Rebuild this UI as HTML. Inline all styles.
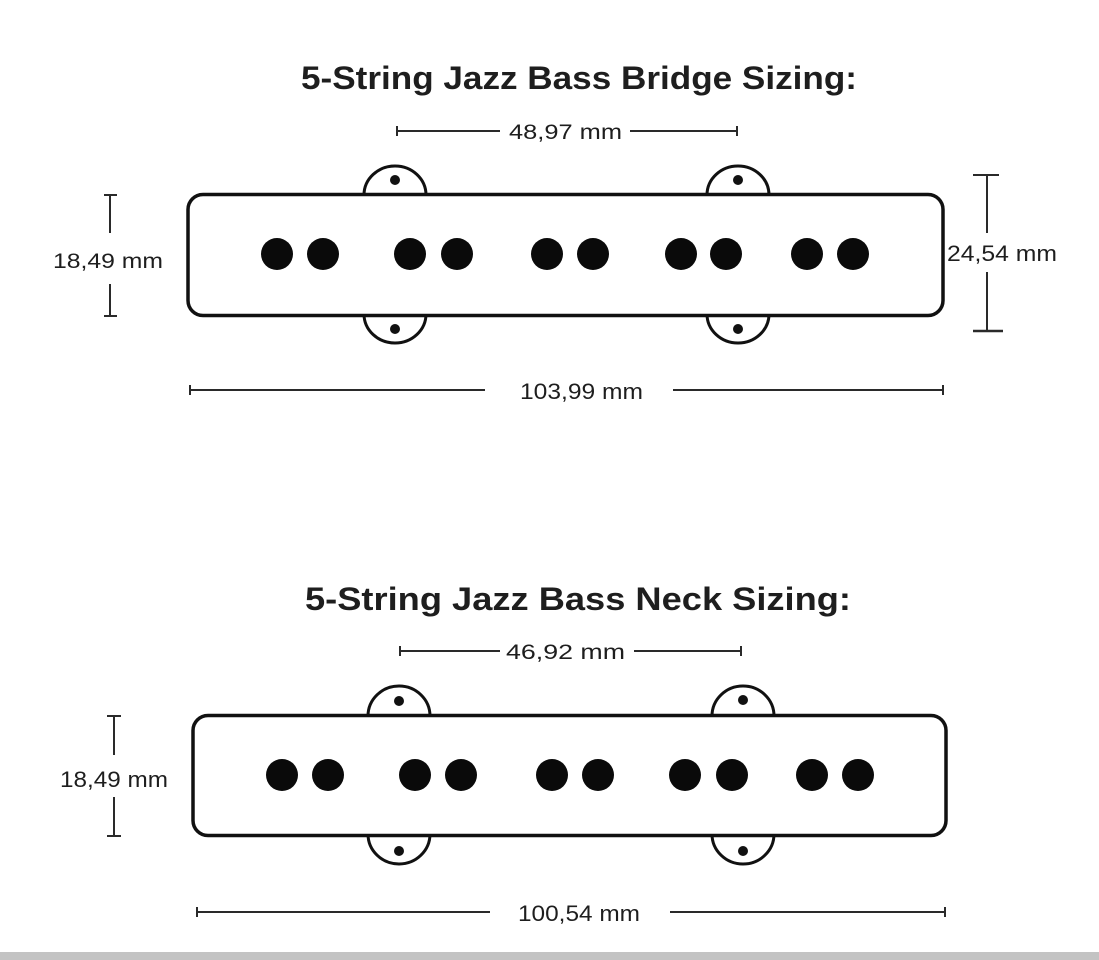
<!DOCTYPE html>
<html>
<head>
<meta charset="utf-8">
<style>
  html, body { margin:0; padding:0; background:#fff; }
  body { width:1099px; height:960px; overflow:hidden; position:relative; }
  svg { display:block; }
  text { font-family: "Liberation Sans", Arial, sans-serif; fill:#1e1e1e; }
</style>
</head>
<body>
<svg width="1099" height="960" viewBox="0 0 1099 960" xmlns="http://www.w3.org/2000/svg">
  <rect x="0" y="0" width="1099" height="960" fill="#ffffff"/>

  <!-- ===== TOP (BRIDGE) ===== -->
  <text x="301" y="89" font-size="32" font-weight="bold" textLength="556" lengthAdjust="spacingAndGlyphs">5-String Jazz Bass Bridge Sizing:</text>

  <!-- 48,97 dimension -->
  <g stroke="#2a2a2a" stroke-width="2" fill="none">
    <line x1="397" y1="131" x2="500" y2="131"/>
    <line x1="630" y1="131" x2="737" y2="131"/>
    <line x1="397" y1="126" x2="397" y2="136"/>
    <line x1="737" y1="126" x2="737" y2="136"/>
  </g>
  <text x="509" y="139" font-size="21" textLength="113" lengthAdjust="spacingAndGlyphs">48,97 mm</text>

  <!-- ears top pickup -->
  <g stroke="#111" stroke-width="3" fill="#fff">
    <path d="M364,195 A31,29 0 0 1 426,195"/>
    <path d="M707,195 A31,29 0 0 1 769,195"/>
    <path d="M364,314 A31,29 0 0 0 426,314"/>
    <path d="M707,314 A31,29 0 0 0 769,314"/>
  </g>
  <g fill="#111">
    <circle cx="395" cy="180" r="5"/>
    <circle cx="738" cy="180" r="5"/>
    <circle cx="395" cy="329" r="5"/>
    <circle cx="738" cy="329" r="5"/>
  </g>
  <!-- body -->
  <rect x="188" y="194.5" width="755" height="121" rx="15" ry="15" fill="#fff" stroke="#111" stroke-width="3.5"/>
  <g fill="#0a0a0a">
    <circle cx="277" cy="254" r="16"/>
    <circle cx="323" cy="254" r="16"/>
    <circle cx="410" cy="254" r="16"/>
    <circle cx="457" cy="254" r="16"/>
    <circle cx="547" cy="254" r="16"/>
    <circle cx="593" cy="254" r="16"/>
    <circle cx="681" cy="254" r="16"/>
    <circle cx="726" cy="254" r="16"/>
    <circle cx="807" cy="254" r="16"/>
    <circle cx="853" cy="254" r="16"/>
  </g>

  <!-- 18,49 left (top) -->
  <g stroke="#2a2a2a" stroke-width="2" fill="none">
    <line x1="110" y1="195" x2="110" y2="233"/>
    <line x1="104" y1="195" x2="117" y2="195"/>
    <line x1="110" y1="284" x2="110" y2="316"/>
    <line x1="104" y1="316" x2="117" y2="316"/>
  </g>
  <text x="53" y="268" font-size="21" textLength="110" lengthAdjust="spacingAndGlyphs">18,49 mm</text>

  <!-- 24,54 right -->
  <g stroke="#2a2a2a" stroke-width="2" fill="none">
    <line x1="987" y1="175" x2="987" y2="233"/>
    <line x1="987" y1="272" x2="987" y2="331"/>
    <line x1="973" y1="175" x2="999" y2="175"/>
    <line x1="973" y1="331" x2="1003" y2="331" stroke-width="2.5"/>
  </g>
  <text x="947" y="261" font-size="22" textLength="110" lengthAdjust="spacingAndGlyphs">24,54 mm</text>

  <!-- 103,99 -->
  <g stroke="#2a2a2a" stroke-width="2" fill="none">
    <line x1="190" y1="390" x2="485" y2="390"/>
    <line x1="673" y1="390" x2="943" y2="390"/>
    <line x1="190" y1="385" x2="190" y2="395"/>
    <line x1="943" y1="385" x2="943" y2="395"/>
  </g>
  <text x="520" y="399" font-size="22" textLength="123" lengthAdjust="spacingAndGlyphs">103,99 mm</text>

  <!-- ===== BOTTOM (NECK) ===== -->
  <text x="305" y="610" font-size="32" font-weight="bold" textLength="546" lengthAdjust="spacingAndGlyphs">5-String Jazz Bass Neck Sizing:</text>

  <!-- 46,92 -->
  <g stroke="#2a2a2a" stroke-width="2" fill="none">
    <line x1="400" y1="651" x2="500" y2="651"/>
    <line x1="634" y1="651" x2="741" y2="651"/>
    <line x1="400" y1="646" x2="400" y2="656"/>
    <line x1="741" y1="646" x2="741" y2="656"/>
  </g>
  <text x="506" y="659" font-size="21" textLength="119" lengthAdjust="spacingAndGlyphs">46,92 mm</text>

  <!-- ears bottom pickup -->
  <g stroke="#111" stroke-width="3" fill="#fff">
    <path d="M368,716 A31,30 0 0 1 430,716"/>
    <path d="M712,716 A31,30 0 0 1 774,716"/>
    <path d="M368,834 A31,30 0 0 0 430,834"/>
    <path d="M712,834 A31,30 0 0 0 774,834"/>
  </g>
  <g fill="#111">
    <circle cx="399" cy="701" r="5"/>
    <circle cx="743" cy="700" r="5"/>
    <circle cx="399" cy="851" r="5"/>
    <circle cx="743" cy="851" r="5"/>
  </g>
  <rect x="193" y="715.5" width="753" height="120" rx="15" ry="15" fill="#fff" stroke="#111" stroke-width="3.5"/>
  <g fill="#0a0a0a">
    <circle cx="282" cy="775" r="16"/>
    <circle cx="328" cy="775" r="16"/>
    <circle cx="415" cy="775" r="16"/>
    <circle cx="461" cy="775" r="16"/>
    <circle cx="552" cy="775" r="16"/>
    <circle cx="598" cy="775" r="16"/>
    <circle cx="685" cy="775" r="16"/>
    <circle cx="732" cy="775" r="16"/>
    <circle cx="812" cy="775" r="16"/>
    <circle cx="858" cy="775" r="16"/>
  </g>

  <!-- 18,49 left (bottom) -->
  <g stroke="#2a2a2a" stroke-width="2" fill="none">
    <line x1="114" y1="716" x2="114" y2="755"/>
    <line x1="107" y1="716" x2="121" y2="716"/>
    <line x1="114" y1="797" x2="114" y2="836"/>
    <line x1="107" y1="836" x2="121" y2="836"/>
  </g>
  <text x="60" y="787" font-size="22" textLength="108" lengthAdjust="spacingAndGlyphs">18,49 mm</text>

  <!-- 100,54 -->
  <g stroke="#2a2a2a" stroke-width="2" fill="none">
    <line x1="197" y1="912" x2="490" y2="912"/>
    <line x1="670" y1="912" x2="945" y2="912"/>
    <line x1="197" y1="907" x2="197" y2="917"/>
    <line x1="945" y1="907" x2="945" y2="917"/>
  </g>
  <text x="518" y="921" font-size="22" textLength="122" lengthAdjust="spacingAndGlyphs">100,54 mm</text>

  <!-- bottom gray bar -->
  <rect x="0" y="952" width="1099" height="8" fill="#c3c3c3"/>
</svg>
</body>
</html>
